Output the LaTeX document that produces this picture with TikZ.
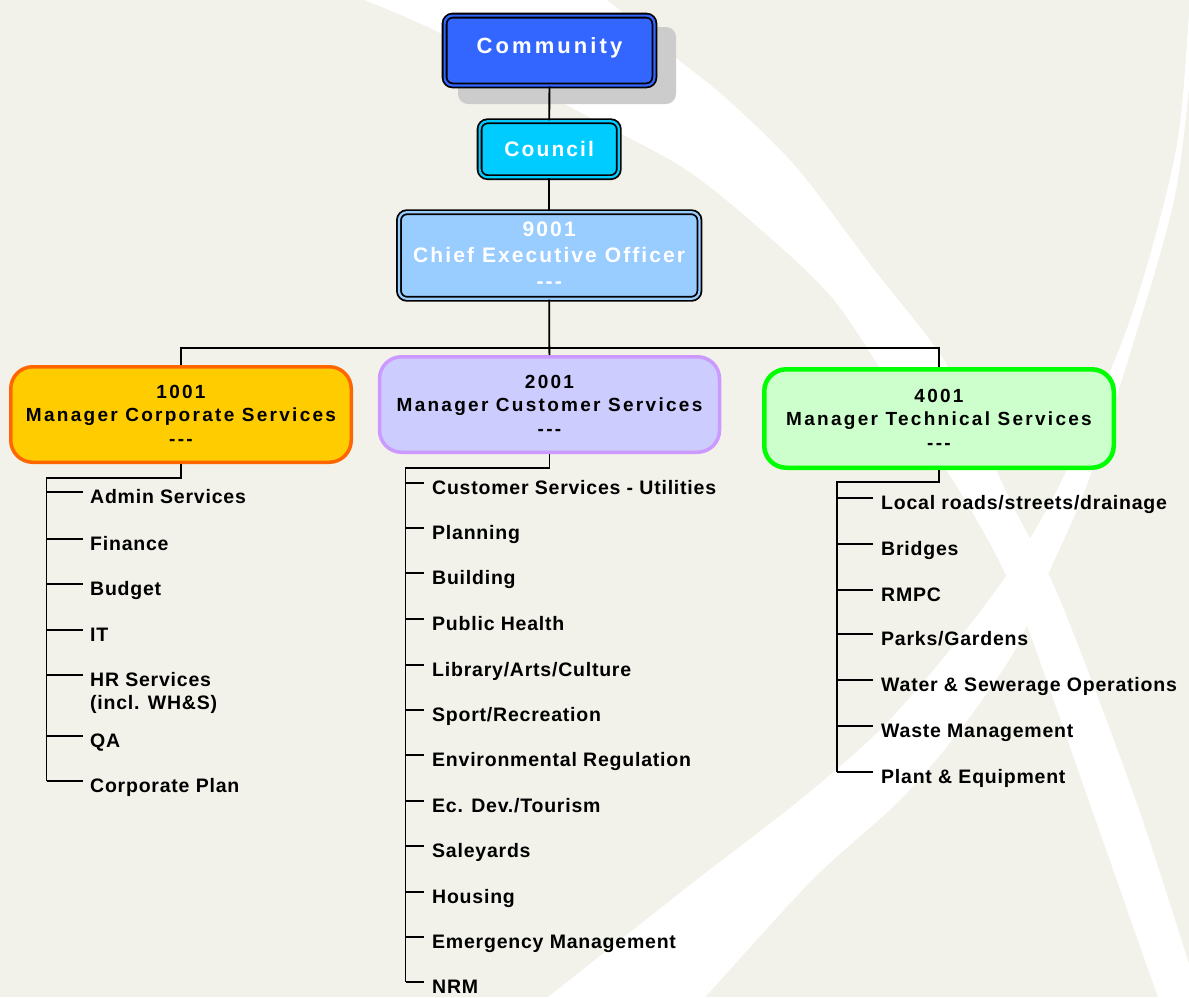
\documentclass[tikz,border=0pt]{standalone}
\usepackage{fontspec}
\setmainfont{Liberation Sans}
\newfontfamily\itemfont[LetterSpace=4]{Liberation Sans}
\newfontfamily\mgrfont[LetterSpace=12]{Liberation Sans}
\newfontfamily\topfont[LetterSpace=10]{Liberation Sans}
\newfontfamily\comfont[LetterSpace=14]{Liberation Sans}
\definecolor{bgc}{HTML}{F2F2EA}
\definecolor{comfill}{HTML}{3366FF}
\definecolor{counfill}{HTML}{00CCFF}
\definecolor{ceofill}{HTML}{99CCFF}
\definecolor{corpfill}{HTML}{FFCC00}
\definecolor{corpline}{HTML}{FF6600}
\definecolor{custfill}{HTML}{CCCCFF}
\definecolor{custline}{HTML}{CC99FF}
\definecolor{techfill}{HTML}{CCFFCC}
\definecolor{techline}{HTML}{00FF00}
\definecolor{shad}{HTML}{CCCCCC}
\begin{document}
\begin{tikzpicture}[x=1pt,y=-1pt,
  conn/.style={line width=1.9pt, draw=black},
  topbox/.style={draw=black, line width=1.8pt, double distance=2.2pt, rounded corners=8pt, inner sep=0pt, text=white, align=center},
  mgrbox/.style={rounded corners=22pt, inner sep=0pt, align=center, text=black,
     font={\fontsize{19}{23.5}\selectfont\mgrfont\bfseries}},
  item/.style={anchor=base west, inner sep=0pt, text=black,
     font={\fontsize{19.5}{23}\selectfont\itemfont\bfseries}}
]
\useasboundingbox (0,0) rectangle (1189,997);
\fill[bgc] (0,0) rectangle (1189,997);
\begin{scope}
\clip (0,0) rectangle (1189,997);
% swoosh A
\fill[white] plot[smooth] coordinates {(364,0) (440,33) (576,110) (682,167) (758,227) (834,300) (900,400) (965,500) (1017,600) (1090,804) (1158,997) (1165,1010)}
  -- plot[smooth] coordinates {(1210,1010) (1200,997) (1137,804) (1060,600) (1010,500) (948,367) (872,267) (796,167) (728,100) (675,57) (607,0) (590,-10)} -- cycle;
% swoosh B
\fill[white] plot[smooth] coordinates {(1192,-10) (1190,0) (1176,150) (1130,320) (1062,480) (1010,570) (950,650) (880,730) (800,800) (690,885) (548,997) (530,1010)}
  -- plot[smooth] coordinates {(690,1010) (705,997) (812,880) (900,800) (960,730) (1015,650) (1050,570) (1085,490) (1128,360) (1174,200) (1192,60) (1200,-10)} -- cycle;
\end{scope}

% shadow of the top box
\fill[shad, rounded corners=10pt] (458,27) rectangle (676,104);

% top boxes
\node[topbox, fill=comfill, double=comfill, minimum width=209.8pt, minimum height=69.8pt,
  text height=16pt, text depth=10.6pt, font={\fontsize{22}{26}\selectfont\comfont\bfseries}]
  (com) at (549.5,50.5) {Community};
\node[topbox, fill=counfill, double=counfill, minimum width=139.2pt, minimum height=55.9pt,
  font={\fontsize{21}{26}\selectfont\topfont\bfseries}]
  (coun) at (549.2,149.2) {Council};
\node[topbox, fill=ceofill, double=ceofill, minimum width=300.5pt, minimum height=86.6pt,
  font={\fontsize{21}{26}\selectfont\topfont\bfseries}]
  (ceo) at (549.2,255.5) {\begin{tabular}{@{}c@{}}\rule{0pt}{22.2pt}9001\\Chief Executive Officer\\-{}-{}-\end{tabular}};

% manager boxes
\node[mgrbox, draw=corpline, line width=3.5pt, fill=corpfill, minimum width=340.5pt, minimum height=95.5pt]
  (corp) at (181,414.5) {\begin{tabular}{@{}c@{}}\rule{0pt}{21.5pt}1001\\Manager Corporate Services\\-{}-{}-\end{tabular}};
\node[mgrbox, draw=custline, line width=3.5pt, fill=custfill, minimum width=340pt, minimum height=95.5pt]
  (cust) at (549.5,404.5) {\begin{tabular}{@{}c@{}}\rule{0pt}{21.5pt}2001\\Manager Customer Services\\-{}-{}-\end{tabular}};
\node[mgrbox, draw=techline, line width=4.5pt, fill=techfill, minimum width=349.5pt, minimum height=98.5pt]
  (tech) at (939,418.5) {\begin{tabular}{@{}c@{}}\rule{0pt}{21.5pt}4001\\Manager Technical Services\\-{}-{}-\end{tabular}};

% connectors of the top part
\draw[conn] (com.south) -- (coun.north);
\draw[conn] (coun.south) -- (ceo.north);
\coordinate (bus) at (549.3,348.3);
\draw[conn] (ceo.south) -- (bus);
\draw[conn] (corp.north) |- (bus) -| (tech.north);
\draw[conn] (bus) -- (cust.north);

% corporate list
\foreach \k/\ty/\txt in {1/492/Admin Services, 2/539/Finance, 3/584/Budget, 4/630/IT,
   5/675/{\begin{tabular}[t]{@{}l@{}}HR Services\\(incl. WH\&S)\end{tabular}}, 6/736/QA, 7/781/Corporate Plan}{
  \coordinate (a\k) at (46.5,\ty);
  \node[item] (A\k) at (90,{\ty+11.5}) {\txt};
  \draw[conn, shorten >=7pt] (a\k) -- (a\k -| A\k.west);
}
\coordinate (aTop) at (46.5,478.3);
\draw[conn] (corp.south) |- (aTop) -- (a7);

% customer list
\foreach \k/\ty/\txt in {1/483/Customer Services - Utilities, 2/528/Planning, 3/573/Building, 4/619/Public Health,
   5/665/{Library/Arts/Culture}, 6/710/{Sport/Recreation}, 7/755/Environmental Regulation, 8/801/{Ec. Dev./Tourism},
   9/846/Saleyards, 10/892/Housing, 11/937/Emergency Management, 12/982/NRM}{
  \coordinate (b\k) at (405.5,\ty);
  \node[item] (B\k) at (432,{\ty+11}) {\txt};
  \draw[conn, shorten >=8pt] (b\k) -- (b\k -| B\k.west);
}
\coordinate (bTop) at (405.5,468.3);
\draw[conn] (cust.south) |- (bTop) -- (b12);

% technical list
\foreach \k/\ty/\txt in {1/498/{Local roads/streets/drainage}, 2/544/Bridges, 3/590/RMPC, 4/634/{Parks/Gardens},
   5/680/Water \& Sewerage Operations, 6/726/Waste Management, 7/772/Plant \& Equipment}{
  \coordinate (c\k) at (837,\ty);
  \node[item] (C\k) at (881,{\ty+11.5}) {\txt};
  \draw[conn, shorten >=8pt] (c\k) -- (c\k -| C\k.west);
}
\coordinate (cTop) at (837,482.3);
\draw[conn] (tech.south) |- (cTop) -- (c7);
\end{tikzpicture}
\end{document}
